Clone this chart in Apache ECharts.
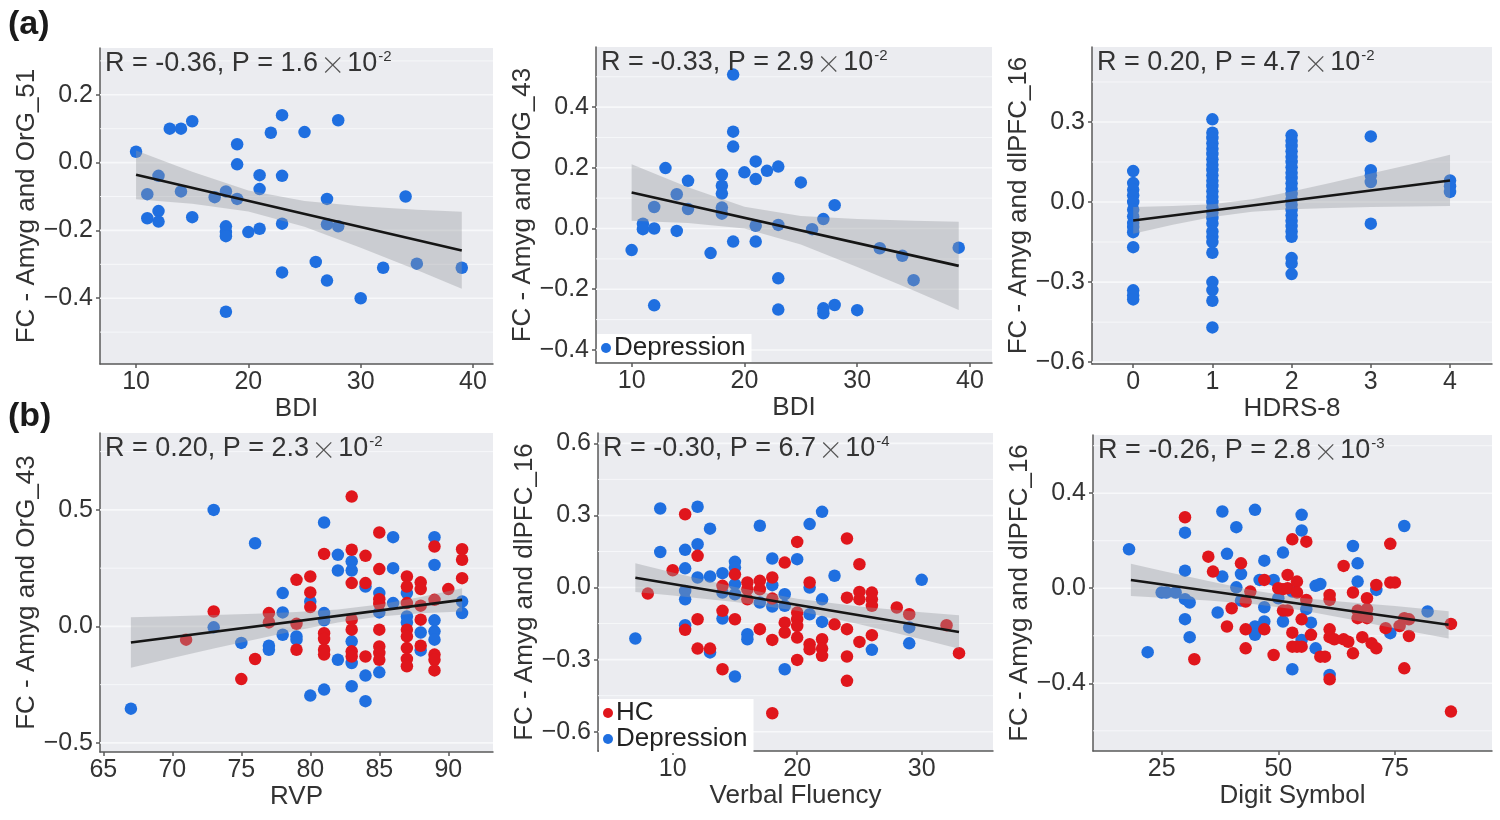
<!DOCTYPE html>
<html>
<head>
<meta charset="utf-8">
<script src="https://cdn.jsdelivr.net/npm/echarts@6/dist/echarts.min.js"></script>
<style>html,body{margin:0;padding:0;background:#fff;}#c{width:1500px;height:820px;}</style>
</head>
<body>
<div id="c"></div>
<script>
// ---------- DATA ----------
// Panel 1: BDI vs FC Amyg-OrG_51 (Depression)
const p1Dep = [[10,0.032],[11,-0.093],[11,-0.164],[12,-0.039],[12,-0.143],[12,-0.174],[13,0.10],[14,0.10],[14,-0.085],[15,0.122],[15,-0.161],[17,-0.102],[18,-0.085],[18,-0.188],[18,-0.205],[18,-0.217],[18,-0.44],[19,0.054],[19,-0.005],[19,-0.107],[20,-0.205],[21,-0.037],[21,-0.078],[21,-0.195],[22,0.088],[23,0.14],[23,-0.039],[23,-0.18],[23,-0.324],[25,0.09],[26,-0.293],[27,-0.107],[27,-0.182],[27,-0.348],[28,0.125],[28,-0.188],[30,-0.40],[32,-0.31],[34,-0.10],[35,-0.298],[39,-0.31]];
const p1LineX = [10, 39], p1LineY = [-0.036, -0.259];
const p1BandX = [10, 15, 20, 25, 30, 35, 39];
const p1BandUp = [0.036, -0.027, -0.082, -0.113, -0.129, -0.139, -0.145];
const p1BandLo = [-0.108, -0.121, -0.144, -0.189, -0.251, -0.317, -0.372];

// Panel 2: BDI vs FC Amyg-OrG_43 (Depression)
const p2Dep = [[10,-0.071],[11,0.016],[11,-0.002],[12,0.071],[12,0.0],[12,-0.253],[13,0.199],[14,0.113],[14,-0.008],[15,0.157],[15,0.064],[17,-0.081],[18,0.177],[18,0.141],[18,0.115],[18,0.069],[18,0.049],[19,0.507],[19,0.319],[19,0.270],[19,-0.043],[20,0.185],[21,0.221],[21,0.163],[21,0.009],[21,-0.043],[22,0.19],[23,0.204],[23,0.012],[23,-0.164],[23,-0.267],[25,0.152],[26,-0.002],[27,0.031],[27,-0.263],[27,-0.279],[28,0.077],[28,-0.252],[30,-0.269],[32,-0.065],[34,-0.09],[35,-0.17],[39,-0.063]];
const p2LineX = [10, 39], p2LineY = [0.119, -0.123];
const p2BandX = [10, 15, 20, 25, 30, 35, 39];
const p2BandUp = [0.212, 0.136, 0.072, 0.041, 0.031, 0.026, 0.022];
const p2BandLo = [0.026, 0.018, 0.000, -0.053, -0.127, -0.204, -0.268];

// Panel 3: HDRS-8 vs FC Amyg-dlPFC_16 (Depression)
const p3Dep = [
  [0,0.116],[0,0.071],[0,0.046],[0,0.025],[0,0.0],[0,-0.029],[0,-0.054],[0,-0.079],[0,-0.094],[0,-0.113],[0,-0.169],[0,-0.331],[0,-0.35],[0,-0.365],
  [1,0.31],[1,0.26],[1,0.24],[1,0.22],[1,0.20],[1,0.18],[1,0.16],[1,0.14],[1,0.12],[1,0.10],[1,0.08],[1,0.06],[1,0.04],[1,0.02],[1,0.0],[1,-0.02],[1,-0.04],[1,-0.06],[1,-0.08],[1,-0.11],[1,-0.13],[1,-0.15],[1,-0.19],[1,-0.30],[1,-0.33],[1,-0.37],[1,-0.47],
  [2,0.25],[2,0.23],[2,0.21],[2,0.19],[2,0.17],[2,0.15],[2,0.13],[2,0.11],[2,0.09],[2,0.07],[2,0.05],[2,0.03],[2,0.01],[2,-0.01],[2,-0.03],[2,-0.05],[2,-0.07],[2,-0.09],[2,-0.11],[2,-0.13],[2,-0.21],[2,-0.23],[2,-0.27],
  [3,0.246],[3,0.119],[3,0.10],[3,0.075],[3,-0.081],
  [4,0.081],[4,0.059],[4,0.038]];
const p3LineX = [0, 4], p3LineY = [-0.069, 0.081];
const p3BandX = [0, 0.5, 1, 1.5, 2, 2.5, 3, 3.5, 4];
const p3BandUp = [-0.019, -0.015, -0.008, 0.010, 0.039, 0.072, 0.107, 0.141, 0.177];
const p3BandLo = [-0.119, -0.085, -0.056, -0.036, -0.027, -0.022, -0.019, -0.017, -0.015];

// Panel 4: RVP vs FC Amyg-OrG_43 (HC + Depression)
const p4Dep = [[67,-0.353],[73,0.5],[73,-0.004],[75,-0.071],[76,0.357],[77,-0.083],[77,-0.1],[78,0.143],[78,0.06],[78,-0.036],[79,-0.043],[79,-0.057],[80,0.107],[80,-0.297],[81,0.446],[81,0.057],[81,0.026],[81,-0.271],[82,0.307],[82,0.24],[82,-0.143],[83,0.279],[83,0.24],[83,-0.064],[83,-0.157],[83,-0.257],[84,0.171],[84,-0.211],[84,-0.321],[85,0.143],[85,0.06],[85,-0.197],[86,0.383],[86,0.25],[86,0.1],[87,0.143],[87,0.043],[87,0.017],[88,-0.026],[88,-0.103],[89,0.383],[89,0.264],[89,0.026],[89,-0.021],[89,-0.057],[91,0.107],[91,0.057]];
const p4HC = [[71,-0.057],[73,0.064],[75,-0.226],[76,-0.14],[77,0.057],[77,0.017],[79,0.2],[79,0.011],[79,-0.1],[80,0.214],[80,0.146],[80,0.083],[81,0.311],[81,-0.029],[81,-0.054],[81,-0.1],[81,-0.121],[83,0.557],[83,0.329],[83,0.186],[83,0.029],[83,-0.014],[83,-0.107],[83,-0.129],[84,0.303],[84,0.186],[84,-0.129],[85,0.403],[85,0.246],[85,0.117],[85,0.097],[85,-0.014],[85,-0.086],[85,-0.114],[85,-0.143],[87,0.214],[87,0.171],[87,0.1],[87,-0.014],[87,-0.043],[87,-0.093],[87,-0.14],[87,-0.171],[88,0.189],[88,0.16],[88,0.089],[88,0.029],[88,-0.083],[89,0.343],[89,0.114],[89,-0.121],[89,-0.143],[89,-0.189],[90,0.16],[91,0.331],[91,0.286],[91,0.207]];
const p4LineX = [67, 91], p4LineY = [-0.069, 0.114];
const p4BandX = [67, 70, 73, 76, 79, 82, 85, 88, 91];
const p4BandUp = [0.039, 0.044, 0.049, 0.054, 0.062, 0.073, 0.094, 0.126, 0.164];
const p4BandLo = [-0.177, -0.136, -0.095, -0.056, -0.018, 0.017, 0.042, 0.056, 0.064];

// Panel 5: Verbal Fluency vs FC Amyg-dlPFC_16 (HC + Depression)
const p5Dep = [[7,-0.212],[9,0.329],[9,0.148],[11,0.157],[11,0.08],[11,-0.014],[11,-0.049],[11,-0.157],[12,0.336],[12,0.18],[12,0.042],[13,0.245],[13,0.046],[13,-0.27],[14,0.06],[14,-0.021],[14,-0.129],[15,0.107],[15,0.083],[15,0.014],[15,-0.028],[15,-0.37],[16,-0.194],[16,-0.215],[17,0.257],[17,-0.062],[18,0.121],[18,0.01],[18,-0.079],[19,-0.028],[19,-0.076],[19,-0.34],[20,0.118],[21,0.264],[21,0.0],[21,-0.111],[22,0.315],[22,-0.049],[22,-0.143],[23,0.049],[26,-0.259],[29,-0.166],[29,-0.232],[30,0.032]];
const p5HC = [[8,-0.025],[10,0.072],[11,0.305],[11,-0.176],[12,0.132],[12,-0.132],[12,-0.254],[13,-0.254],[14,0.007],[14,-0.097],[14,-0.34],[15,0.055],[15,-0.132],[16,0.021],[16,-0.007],[16,-0.049],[17,0.028],[17,-0.007],[17,-0.173],[18,0.042],[18,-0.046],[18,-0.218],[18,-0.523],[19,0.104],[19,-0.146],[19,-0.187],[20,0.19],[20,-0.104],[20,-0.132],[20,-0.16],[20,-0.208],[20,-0.301],[21,0.021],[21,-0.236],[21,-0.257],[22,-0.215],[22,-0.254],[22,-0.284],[23,-0.153],[24,0.204],[24,-0.042],[24,-0.173],[24,-0.287],[24,-0.388],[25,0.097],[25,-0.018],[25,-0.049],[25,-0.226],[26,-0.021],[26,-0.049],[26,-0.076],[26,-0.198],[28,-0.083],[29,-0.111],[32,-0.157],[33,-0.273]];
const p5LineX = [7, 33], p5LineY = [0.041, -0.185];
const p5BandX = [7, 10, 15, 20, 25, 30, 33];
const p5BandUp = [0.101, 0.063, 0.002, -0.047, -0.079, -0.103, -0.115];
const p5BandLo = [-0.019, -0.033, -0.060, -0.097, -0.153, -0.215, -0.255];

// Panel 6: Digit Symbol vs FC Amyg-dlPFC_16 (HC + Depression)
const p6Dep = [[18,0.164],[22,-0.269],[25,-0.018],[26,-0.018],[28,-0.018],[30,0.234],[30,0.074],[30,-0.046],[31,-0.06],[30,-0.13],[31,-0.206],[37,-0.102],[38,0.323],[38,0.049],[39,0.145],[41,0.004],[41,0.257],[42,-0.052],[42,0.06],[45,0.33],[45,-0.161],[45,-0.196],[47,0.116],[47,-0.08],[46,0.035],[47,-0.14],[49,0.035],[50,-0.042],[51,-0.14],[51,0.15],[53,-0.014],[53,-0.341],[55,-0.218],[55,0.309],[55,0.243],[56,-0.088],[57,-0.145],[58,0.01],[58,-0.253],[59,0.018],[61,-0.365],[66,0.178],[67,0.105],[67,0.028],[71,-0.007],[74,-0.189],[77,0.262],[82,-0.098]];
const p6HC = [[30,0.299],[32,-0.299],[35,0.133],[36,0.07],[39,-0.161],[40,-0.084],[42,0.105],[43,-0.173],[43,-0.253],[43,-0.056],[44,-0.014],[47,-0.173],[47,0.035],[49,-0.281],[50,0.0],[51,-0.094],[51,-0.004],[52,0.0],[52,0.056],[52,-0.094],[53,-0.246],[53,0.206],[53,-0.187],[54,-0.246],[54,0.028],[54,-0.018],[55,-0.246],[55,-0.131],[56,0.196],[56,-0.049],[57,-0.196],[59,-0.288],[60,-0.288],[61,-0.028],[61,-0.173],[61,-0.206],[61,-0.383],[61,-0.049],[62,-0.215],[64,-0.215],[64,0.094],[65,-0.225],[66,-0.018],[66,-0.274],[67,-0.094],[67,-0.126],[68,-0.206],[69,-0.088],[69,-0.042],[69,-0.126],[70,-0.232],[71,0.014],[71,-0.253],[73,-0.168],[74,0.024],[74,0.187],[75,0.024],[76,-0.159],[77,-0.337],[77,-0.126],[78,-0.201],[78,-0.131],[87,-0.15],[87,-0.519]];
const p6LineX = [18.4, 86.5], p6LineY = [0.035, -0.154];
const p6BandX = [18.4, 25, 35, 45, 55, 65, 75, 86.5];
const p6BandUp = [0.103, 0.074, 0.030, -0.011, -0.041, -0.059, -0.075, -0.097];
const p6BandLo = [-0.033, -0.040, -0.052, -0.067, -0.093, -0.129, -0.169, -0.211];

// Tick labels
const xTicks = [[10,20,30,40],[10,20,30,40],[0,1,2,3,4],[65,70,75,80,85,90],[10,20,30],[25,50,75]];
const yTicks = [[-0.4,-0.2,0,0.2],[-0.4,-0.2,0,0.2,0.4],[-0.6,-0.3,0,0.3],[-0.5,0,0.5],[-0.6,-0.3,0,0.3,0.6],[-0.4,0,0.4]];
const yMinor = [[-0.5,-0.3,-0.1,0.1,0.3],[-0.3,-0.1,0.1,0.3,0.5],[-0.45,-0.15,0.15,0.45],[-0.25,0.25,0.75],[-0.45,-0.15,0.15,0.45],[-0.6,-0.2,0.2,0.6]];
const xNames = ['BDI','BDI','HDRS-8','RVP','Verbal Fluency','Digit Symbol'];
const yNames = ['FC - Amyg and OrG_51','FC - Amyg and OrG_43','FC - Amyg and dlPFC_16','FC - Amyg and OrG_43','FC - Amyg and dlPFC_16','FC - Amyg and dlPFC_16'];
const statR = ['R = -0.36, P = 1.6','R = -0.33, P = 2.9','R = 0.20, P = 4.7','R = 0.20, P = 2.3','R = -0.30, P = 6.7','R = -0.26, P = 2.8'];
const statExp = ['-2','-2','-2','-2','-4','-3'];

// ---------- LAYOUT ----------
const grids = [
  {left:100, top:48, width:393, height:316},
  {left:596, top:47, width:396, height:316},
  {left:1092, top:47, width:400, height:317},
  {left:100, top:433, width:393, height:319},
  {left:598, top:433, width:395, height:318},
  {left:1093, top:435, width:399, height:316}
];
const xRange = [[6.79,41.78],[6.84,41.95],[-0.52,4.53],[64.76,93.24],[4.0,35.73],[10.28,95.8]];
const yRange = [[-0.594,0.338],[-0.443,0.598],[-0.607,0.581],[-0.539,0.83],[-0.68,0.643],[-0.685,0.645]];

const FONT = '"Liberation Sans", Arial, Helvetica, sans-serif';
const BLUE = '#1f6fe0', RED = '#e0161c';
const AXIS_COL = '#5a5a5a', TXT = '#333333';

const scatterSets = [
  [{name:'Depression', data:p1Dep, color:BLUE}],
  [{name:'Depression', data:p2Dep, color:BLUE}],
  [{name:'Depression', data:p3Dep, color:BLUE}],
  [{name:'Depression', data:p4Dep, color:BLUE},{name:'HC', data:p4HC, color:RED}],
  [{name:'Depression', data:p5Dep, color:BLUE},{name:'HC', data:p5HC, color:RED}],
  [{name:'Depression', data:p6Dep, color:BLUE},{name:'HC', data:p6HC, color:RED}]
];
const lines = [[p1LineX,p1LineY],[p2LineX,p2LineY],[p3LineX,p3LineY],[p4LineX,p4LineY],[p5LineX,p5LineY],[p6LineX,p6LineY]];
const bands = [[p1BandX,p1BandUp,p1BandLo],[p2BandX,p2BandUp,p2BandLo],[p3BandX,p3BandUp,p3BandLo],[p4BandX,p4BandUp,p4BandLo],[p5BandX,p5BandUp,p5BandLo],[p6BandX,p6BandUp,p6BandLo]];

function fmtY(v){ const s = Math.abs(v).toFixed(1); return (v < -1e-9 ? '\u2212' : '') + s; }

const option = {
  animation:false,
  backgroundColor:'#ffffff',
  textStyle:{fontFamily:FONT},
  grid: grids.map(g => Object.assign({show:true, backgroundColor:'#ebecf0', borderWidth:0, containLabel:false}, g)),
  xAxis: grids.map((g,i) => ({
    type:'value', gridIndex:i, min:xRange[i][0], max:xRange[i][1],
    name:xNames[i], nameLocation:'middle', nameGap:31,
    nameTextStyle:{fontSize:26, color:TXT, fontFamily:FONT},
    axisLine:{show:true, onZero:false, lineStyle:{color:AXIS_COL, width:1.5}},
    axisTick:{show:true, customValues:xTicks[i], length:4, lineStyle:{color:AXIS_COL, width:1.5}},
    axisLabel:{customValues:xTicks[i], fontSize:25, color:TXT, margin:6, fontFamily:FONT},
    splitLine:{show:false}
  })),
  yAxis: grids.map((g,i) => ({
    type:'value', gridIndex:i, min:yRange[i][0], max:yRange[i][1],
    name:yNames[i], nameLocation:'middle', nameGap:60, nameRotate:90,
    nameTextStyle:{fontSize:26, color:TXT, fontFamily:FONT},
    axisLine:{show:true, onZero:false, lineStyle:{color:AXIS_COL, width:1.5}},
    axisTick:{show:true, customValues:yTicks[i], length:4, lineStyle:{color:AXIS_COL, width:1.5}},
    axisLabel:{customValues:yTicks[i], fontSize:25, color:TXT, margin:7, fontFamily:FONT, formatter:fmtY},
    splitLine:{show:false}
  })),
  title: [
    {text:'(a)', left:3, top:3, textStyle:{fontSize:34, fontWeight:'bold', color:'#1a1a1a', fontFamily:FONT}},
    {text:'(b)', left:3, top:395, textStyle:{fontSize:34, fontWeight:'bold', color:'#1a1a1a', fontFamily:FONT}}
  ].concat(grids.map((g,i) => ({
    text:'{m|' + statR[i] + '}{x|×}{m|10}{s|' + statExp[i] + '}',
    left:g.left + 5, top:g.top + 1, padding:0,
    textStyle:{fontSize:27, color:TXT, fontWeight:'normal', fontFamily:FONT,
      rich:{ m:{fontSize:27, color:TXT, fontFamily:FONT, lineHeight:30},
             x:{fontSize:25, color:'#555', fontFamily:'"Noto Sans CJK SC", "Noto Sans CJK JP", sans-serif', fontWeight:200, lineHeight:30, padding:[0,2,0,2]},
             s:{fontSize:15, color:TXT, fontFamily:FONT, verticalAlign:'top', lineHeight:30, padding:[0,0,12,1]} }}
  }))),
  legend: [
    {data:['Depression'], left:597, top:334, orient:'vertical', icon:'circle', itemWidth:10, itemHeight:10, itemGap:0,
     backgroundColor:'#ffffff', padding:[1,6,1,4], selectedMode:false,
     textStyle:{fontSize:26, color:'#222', fontFamily:FONT, lineHeight:24, padding:[0,0,0,-2]}},
    {data:['HC','Depression'], left:599, top:699, orient:'vertical', icon:'circle', itemWidth:10, itemHeight:10, itemGap:0,
     backgroundColor:'#ffffff', padding:[1,6,1,4], selectedMode:false,
     textStyle:{fontSize:26, color:'#222', fontFamily:FONT, lineHeight:22, padding:[0,0,0,-2]}}
  ],
  series: []
};

grids.forEach((g,i) => {
  // white horizontal grid lines (major + minor)
  const gl = yTicks[i].map(v => [v, 1]).concat(yMinor[i].map(v => [v, 0]));
  option.series.push({
    type:'custom', xAxisIndex:i, yAxisIndex:i, silent:true, z:1,
    data: gl.map(d => [xRange[i][0], d[0], d[1]]),
    renderItem:(params, api) => {
      const cs = params.coordSys;
      const y = api.coord([api.value(0), api.value(1)])[1];
      const major = api.value(2) === 1;
      return {type:'line', shape:{x1:cs.x, y1:y, x2:cs.x + cs.width, y2:y},
        style:{stroke:'#f7f8fa', lineWidth: major ? 1.6 : 0.9}};
    }
  });
  // scatter points
  scatterSets[i].forEach(s => {
    option.series.push({
      type:'scatter', name:s.name, xAxisIndex:i, yAxisIndex:i, z:2,
      symbolSize:12.5, itemStyle:{color:s.color, opacity:1}, data:s.data, silent:true
    });
  });
  // confidence band
  const b = bands[i];
  option.series.push({
    type:'custom', xAxisIndex:i, yAxisIndex:i, silent:true, z:3,
    data:[[b[0][0], b[1][0]]],
    renderItem:(params, api) => {
      const pts = [];
      for (let k = 0; k < b[0].length; k++) pts.push(api.coord([b[0][k], b[1][k]]));
      for (let k = b[0].length - 1; k >= 0; k--) pts.push(api.coord([b[0][k], b[2][k]]));
      return {type:'polygon', shape:{points:pts}, style:{fill:'rgba(150,152,158,0.38)'}};
    }
  });
  // regression line
  const L = lines[i];
  option.series.push({
    type:'line', xAxisIndex:i, yAxisIndex:i, z:4, silent:true, showSymbol:false, symbol:'none',
    lineStyle:{color:'#151515', width:2.6},
    data: L[0].map((x,k) => [x, L[1][k]])
  });
});

const chart = echarts.init(document.getElementById('c'), null, {renderer:'canvas'});
chart.setOption(option);
</script>
</body>
</html>
